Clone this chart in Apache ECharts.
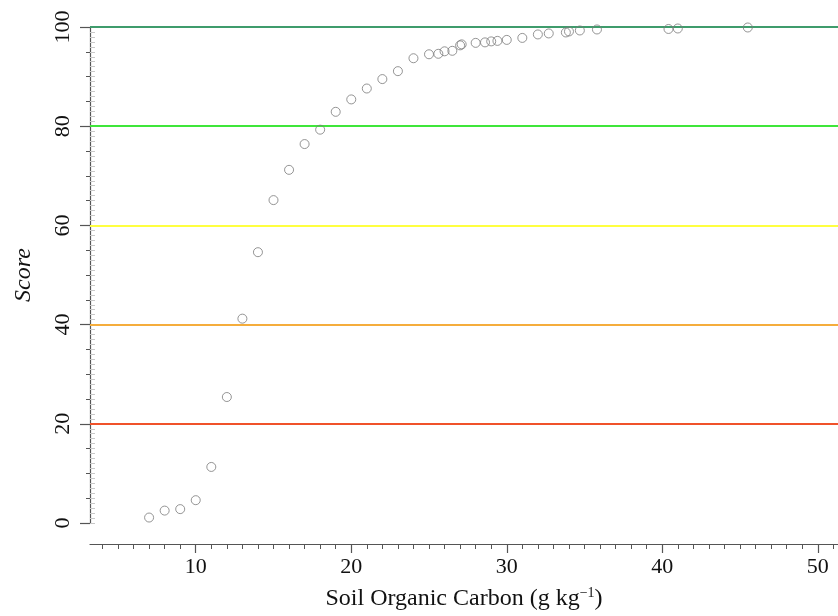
<!DOCTYPE html>
<html>
<head>
<meta charset="utf-8">
<script src="https://cdn.jsdelivr.net/npm/echarts@6/dist/echarts.min.js"></script>
<style>html,body{margin:0;padding:0;background:#fff;}#c{width:838px;height:616px;}</style>
</head>
<body>
<div id="c"></div>
<script>
var socValues = [7,8,9,10,11,12,13,14,15,16,17,18,19,20,21,22,23,24,25,25.6,26,26.5,27,27.1,28,28.6,29,29.4,30,31,32,32.7,33.8,34,34.7,35.8,40.4,41,45.5];
var scoreValues = [1.1,2.5,2.8,4.6,11.3,25.4,41.2,54.6,65.1,71.2,76.4,79.3,82.9,85.4,87.6,89.5,91.1,93.7,94.5,94.6,95.1,95.2,96.3,96.5,96.8,96.9,97.1,97.2,97.4,97.8,98.5,98.7,98.9,99.1,99.3,99.5,99.6,99.7,99.9];
var thresholds = [100,80,60,40,20];
var thresholdColors = ['#3f9c6c','#3fe63a','#ffff40','#f5ad3c','#f0522a'];
var xTickLabels = [10,20,30,40,50];
var xMinorTicks = [];
for (var t = 4; t <= 51; t++) xMinorTicks.push(t);
var yTickLabels = [0,20,40,60,80,100];

var xMin = 3.2, xMax = 51.3;
var font = 'Liberation Serif, Times New Roman, serif';

var chart = echarts.init(document.getElementById('c'));
var points = socValues.map(function(v,i){return [v, scoreValues[i]];});

chart.setOption({
  animation:false,
  backgroundColor:'#fff',
  grid:[
    {left:90, right:0, top:27, bottom:93, containLabel:false},
    {left:90, right:0, top:500, bottom:72, containLabel:false}
  ],
  xAxis:[
    {gridIndex:0, type:'value', min:xMin, max:xMax, show:false},
    {gridIndex:1, type:'value', min:xMin, max:xMax, position:'bottom',
     axisLine:{show:true, lineStyle:{color:'#555', width:1.2}},
     axisTick:{show:true, length:9, customValues:xTickLabels, lineStyle:{color:'#555', width:1.2}},
     axisLabel:{show:true, customValues:xTickLabels, margin:12, fontSize:22, fontFamily:font, color:'#111'},
     splitLine:{show:false},
     name:'Soil Organic Carbon (g kg{sup|−1})',
     nameLocation:'middle', nameGap:42,
     nameTextStyle:{fontSize:24, fontFamily:font, color:'#111',
       rich:{sup:{fontSize:14, fontFamily:font, color:'#111', verticalAlign:'top', padding:[0,0,12,0]}}}
    },
    {gridIndex:1, type:'value', min:xMin, max:xMax, position:'bottom',
     axisLine:{show:false},
     axisTick:{show:true, length:5, customValues:xMinorTicks, lineStyle:{color:'#555', width:1}},
     axisLabel:{show:false}, splitLine:{show:false}
    }
  ],
  yAxis:[
    {gridIndex:0, type:'value', position:'left', min:0, max:100, interval:20,
     axisLine:{show:true, lineStyle:{color:'#555', width:1.2}},
     axisTick:{show:true, length:10, lineStyle:{color:'#555', width:1.2}},
     axisLabel:{show:true, rotate:90, margin:16, fontSize:22, fontFamily:font, color:'#111'},
     splitLine:{show:false},
     name:'Score', nameLocation:'middle', nameRotate:90, nameGap:54,
     nameTextStyle:{fontSize:24, fontStyle:'italic', fontFamily:font, color:'#111'}
    },
    {gridIndex:0, type:'value', position:'left', min:0, max:100, interval:5,
     axisLine:{show:false},
     axisTick:{show:true, length:4, lineStyle:{color:'#555', width:1}},
     axisLabel:{show:false}, splitLine:{show:false}
    },
    {gridIndex:0, type:'value', position:'left', min:0, max:100, interval:1,
     axisLine:{show:false},
     axisTick:{show:true, inside:true, length:5, lineStyle:{color:'#c8c8c8', width:1}},
     axisLabel:{show:false}, splitLine:{show:false}
    },
    {gridIndex:1, type:'value', min:0, max:1, show:false}
  ],
  series:[
    {type:'line', xAxisIndex:0, yAxisIndex:0, data:[], z:1,
     markLine:{silent:true, symbol:['none','none'], label:{show:false},
       data: thresholds.map(function(v,i){
         return {yAxis:v, lineStyle:{color:thresholdColors[i], width:2, type:'solid'}};
       })}
    },
    {type:'scatter', xAxisIndex:0, yAxisIndex:0, data:points, z:5,
     symbol:'circle', symbolSize:9,
     itemStyle:{color:'rgba(255,255,255,0)', borderColor:'#7a7a7a', borderWidth:1}
    }
  ]
});
</script>
</body>
</html>
